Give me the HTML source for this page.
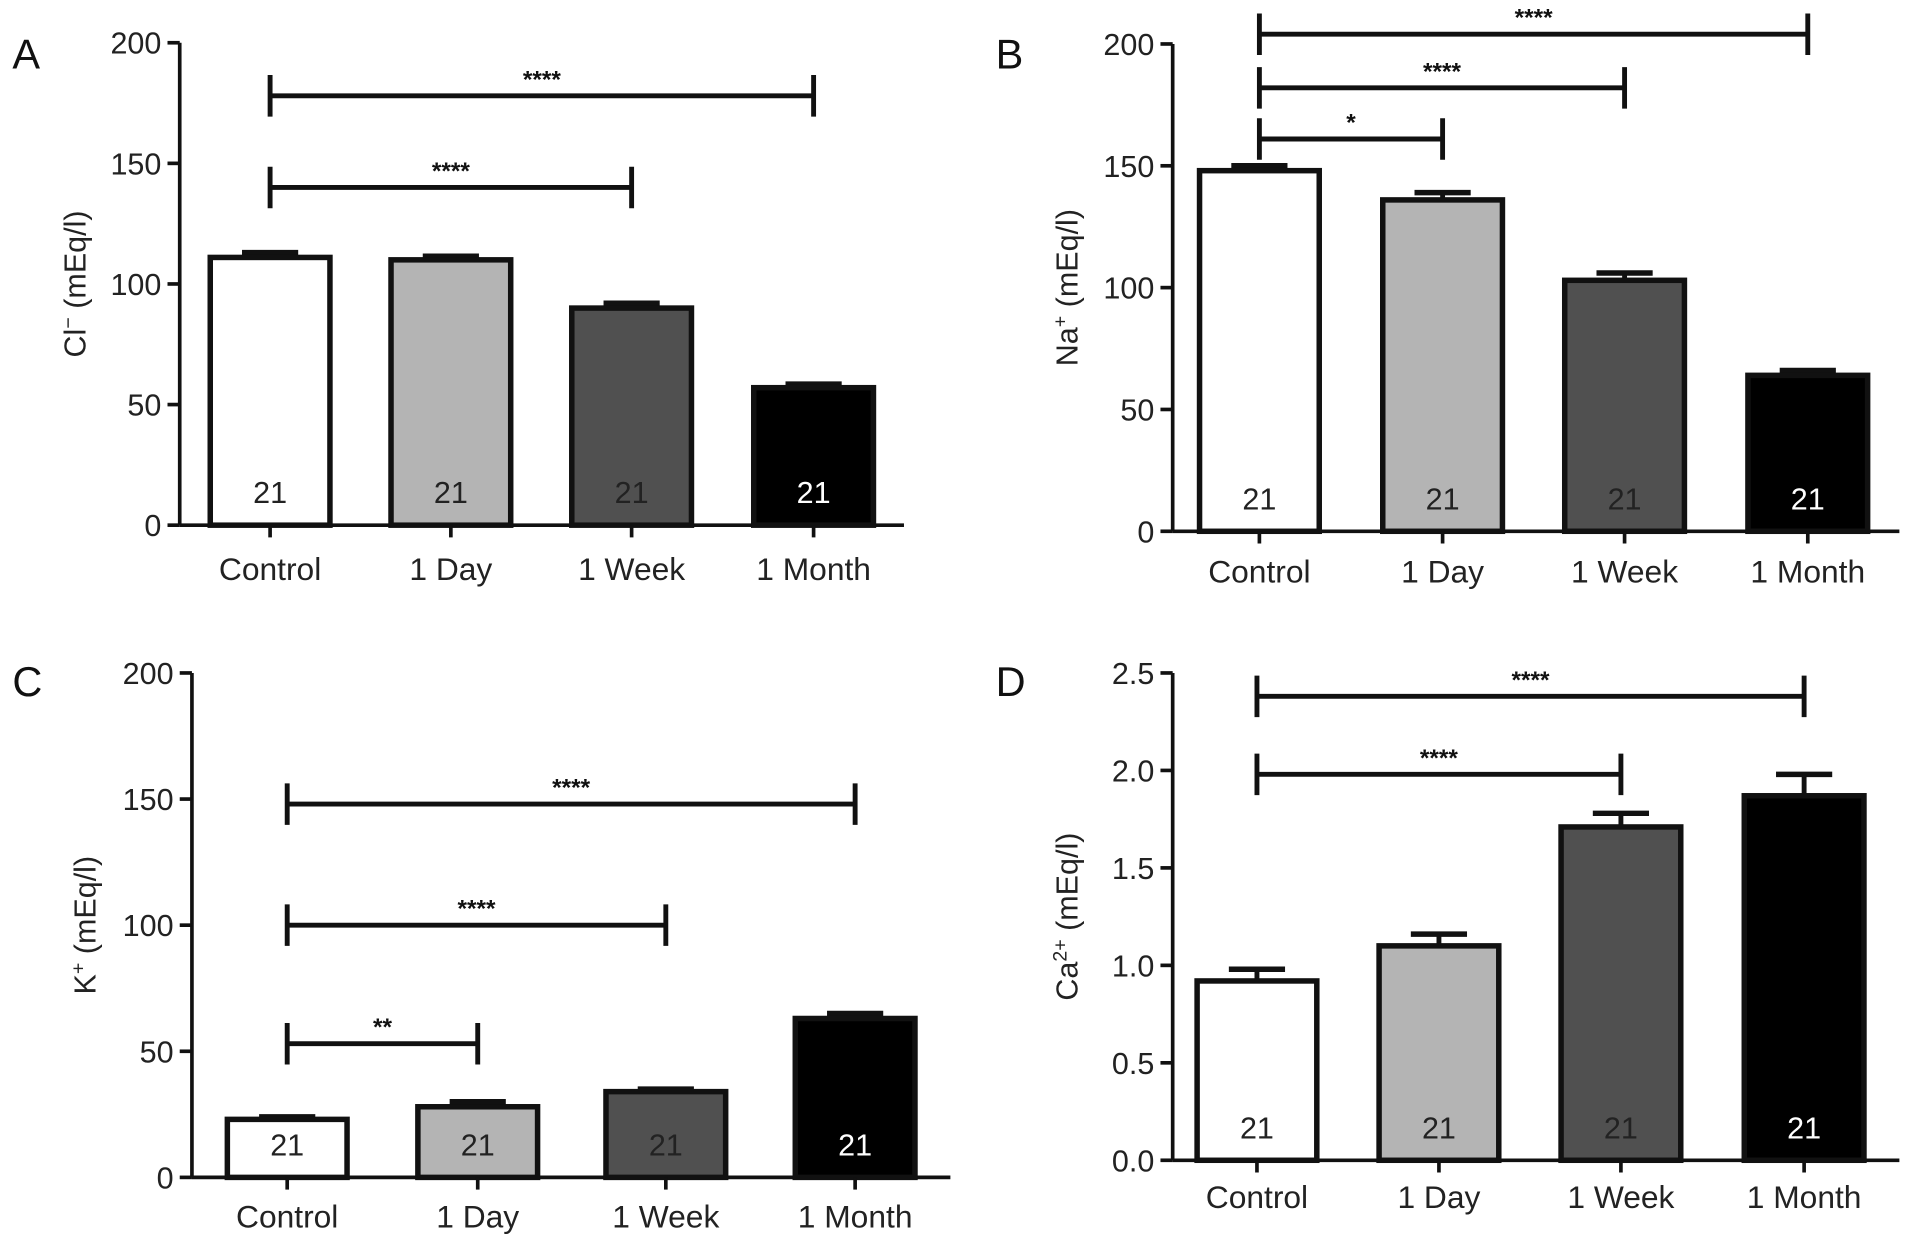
<!DOCTYPE html>
<html><head><meta charset="utf-8"><style>
html,body{margin:0;padding:0;background:#fff;}
svg{display:block;font-family:"Liberation Sans",sans-serif;}
</style></head><body>
<svg id="fig" width="1913" height="1247" viewBox="0 0 1566 1021"></svg>
<script>
const categories = ["Control","1 Day","1 Week","1 Month"];
const countLabels = ["21","21","21","21"];
const clValues = [111, 110, 90, 57];
const clErrors = [2, 1.5, 2, 1.5];
const naValues = [148, 136, 103, 64];
const naErrors = [2, 3, 3, 2];
const kValues = [23, 28, 34, 63];
const kErrors = [1, 2, 1, 2];
const caValues = [0.92, 1.10, 1.71, 1.87];
const caErrors = [0.06, 0.06, 0.07, 0.11];
const ticks200 = [0, 50, 100, 150, 200];
const ticksCa = [0, 0.5, 1.0, 1.5, 2.0, 2.5];
const ticksCaLabels = ["0.0","0.5","1.0","1.5","2.0","2.5"];
const clBrackets = [[0,3,178],[0,2,140]];
const naBrackets = [[0,3,204],[0,2,182],[0,1,161]];
const kBrackets = [[0,3,148],[0,2,100],[0,1,53]];
const caBrackets = [[0,3,2.38],[0,2,1.98]];
const clStars = ["****","****"];
const naStars = ["****","****","*"];
const kStars = ["****","****","**"];
const caStars = ["****","****"];

const NS = "http://www.w3.org/2000/svg";
const svg = document.getElementById("fig");
const fills = ["#ffffff","#b4b4b4","#505050","#000000"];
const textFills = ["#222","#222","#222","#fff"];
function mk(tag, attrs, parent){const e=document.createElementNS(NS,tag);for(const k in attrs)e.setAttribute(k,attrs[k]);(parent||svg).appendChild(e);return e;}

function panel(p){
  const g = mk("g",{});
  
  
  const y = v => p.y0 - (v - p.min)/(p.max - p.min)*(p.y0 - p.yTop);
  const x = i => p.cx[i];
  const lt = mk("text",{x:p.letterX,y:p.letterY,"font-size":34,fill:"#111"},g); lt.textContent=p.letter;
  
  
  const ya = mk("line",{x1:p.ax,y1:p.yTop,x2:p.ax,y2:p.y0,stroke:"#111","stroke-width":3},g);
  
  
  p.ticks.forEach((t,i)=>{
    mk("line",{x1:p.ax-10,y1:y(t),x2:p.ax,y2:y(t),stroke:"#111","stroke-width":3},g);
    const tl = mk("text",{x:p.ax-15,y:y(t)+9,"font-size":25,"text-anchor":"end",fill:"#222"},g);
    tl.textContent = p.tickLabels[i];
    
    
  });
  const xa = mk("line",{x1:p.ax,y1:p.y0,x2:p.axEnd,y2:p.y0,stroke:"#111","stroke-width":3},g);
  
  
  const tt = mk("text",{x:0,y:0,"font-size":25,"text-anchor":"middle",fill:"#222",transform:`translate(${p.titleX},${(p.yTop+p.y0)/2}) rotate(-90)`},g);
  tt.innerHTML = p.title;
  
  
  const bw = 98;
  p.values.forEach((v,i)=>{
    const top = y(v+p.errors[i]);
    const el = mk("line",{x1:x(i),y1:top,x2:x(i),y2:y(v),stroke:"#111","stroke-width":4},g);
    
    
    mk("line",{x1:x(i)-23,y1:top,x2:x(i)+23,y2:top,stroke:"#111","stroke-width":4.5},g);
    const r = mk("rect",{x:x(i)-bw/2,y:y(v),width:bw,height:p.y0-y(v),fill:fills[i],stroke:"#111","stroke-width":4.5},g);
    
    
    const n = mk("text",{x:x(i),y:p.y0-18,"font-size":25,"text-anchor":"middle",fill:textFills[i]},g);
    n.textContent = countLabels[i];
    
    
    mk("line",{x1:x(i),y1:p.y0,x2:x(i),y2:p.y0+10,stroke:"#111","stroke-width":3},g);
    const cl = mk("text",{x:x(i),y:p.labelY,"font-size":26,"text-anchor":"middle",fill:"#222"},g);
    cl.textContent = categories[i];
    
    
  });
  p.brackets.forEach((b,j)=>{
    const by = y(b[2]);
    const x1 = x(b[0]), x2 = x(b[1]);
    const bl = mk("path",{d:`M${x1},${by-17}V${by+17}M${x1},${by}H${x2}M${x2},${by-17}V${by+17}`,stroke:"#111","stroke-width":4,fill:"none"},g);
    
    
    const st = mk("text",{x:(x1+x2)/2,y:by-7,"font-size":20,"text-anchor":"middle",fill:"#111","font-weight":"bold"},g);
    st.textContent = p.stars[j];
    
    
  });
}
const t200 = ticks200.map(String);
panel({letter:"A",letterX:10,letterY:56,ax:147,axEnd:740,yTop:35,y0:430,min:0,max:200,cx:[221,369,517,666],labelY:475,titleX:70,
  title:'Cl<tspan baseline-shift="super" font-size="16">−</tspan> (mEq/l)',ticks:ticks200,tickLabels:t200,values:clValues,errors:clErrors,brackets:clBrackets,stars:clStars});
panel({letter:"B",letterX:815,letterY:56,ax:960,axEnd:1555,yTop:36,y0:435,min:0,max:200,cx:[1031,1181,1330,1480],labelY:477,titleX:882,
  title:'Na<tspan baseline-shift="super" font-size="16">+</tspan> (mEq/l)',ticks:ticks200,tickLabels:t200,values:naValues,errors:naErrors,brackets:naBrackets,stars:naStars});
panel({letter:"C",letterX:10,letterY:570,ax:157,axEnd:778,yTop:551,y0:964,min:0,max:200,cx:[235,391,545,700],labelY:1005,titleX:78,
  title:'K<tspan baseline-shift="super" font-size="16">+</tspan> (mEq/l)',ticks:ticks200,tickLabels:t200,values:kValues,errors:kErrors,brackets:kBrackets,stars:kStars});
panel({letter:"D",letterX:815,letterY:570,ax:960,axEnd:1555,yTop:551,y0:950,min:0,max:2.5,cx:[1029,1178,1327,1477],labelY:989,titleX:882,
  title:'Ca<tspan baseline-shift="super" font-size="16">2+</tspan> (mEq/l)',ticks:ticksCa,tickLabels:ticksCaLabels,values:caValues,errors:caErrors,brackets:caBrackets,stars:caStars});
</script>
</body></html>
